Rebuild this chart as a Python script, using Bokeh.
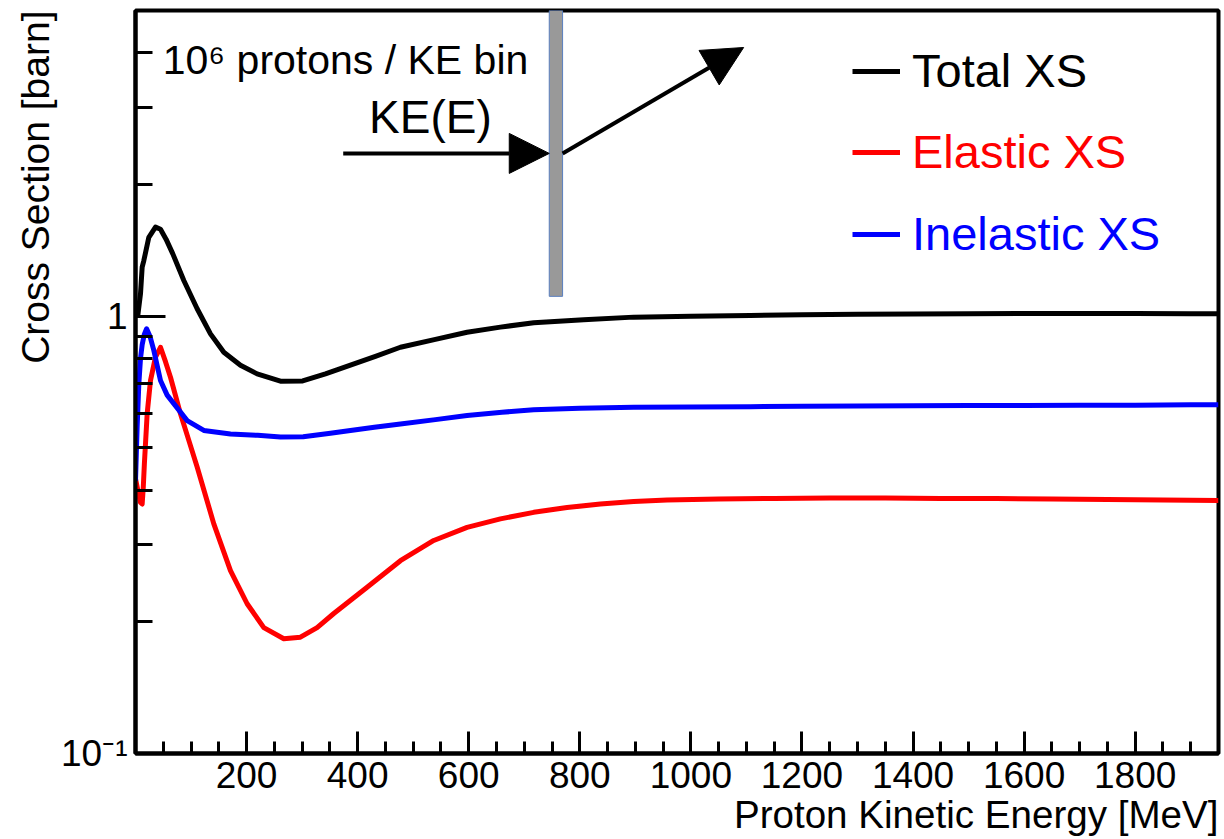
from bokeh.plotting import figure
from bokeh.models import (Range1d, FixedTicker, Legend, LegendItem, Arrow,
                          NormalHead, Label, Title)
from bokeh.embed import file_html
from bokeh.resources import INLINE

FONT = "Liberation Sans"

# ---------------- data ----------------
total_ke = [4, 9, 12, 15, 24, 36, 45, 55, 67, 87, 111, 135, 159, 189, 219, 261,
            301, 342, 387, 432, 477, 540, 597, 657, 717, 807, 897, 1000, 1107,
            1200, 1300, 1400, 1500, 1600, 1700, 1800, 1900, 1950]
total_xs = [1.00, 1.125, 1.295, 1.34, 1.515, 1.598, 1.58, 1.50, 1.39, 1.207,
            1.04, 0.911, 0.827, 0.772, 0.738, 0.710, 0.711, 0.738, 0.773, 0.809,
            0.849, 0.885, 0.919, 0.944, 0.966, 0.981, 0.995, 1.000, 1.004,
            1.007, 1.010, 1.012, 1.013, 1.014, 1.014, 1.014, 1.013, 1.013]

inelastic_ke = [0, 3, 6, 9, 12, 16, 20, 26, 33, 45, 57, 69, 93, 123, 171, 220,
                261, 302, 351, 387, 430, 477, 540, 597, 660, 717, 800, 897,
                1000, 1107, 1200, 1300, 1400, 1500, 1600, 1700, 1800, 1900, 1950]
inelastic_xs = [0.42, 0.56, 0.70, 0.80, 0.86, 0.91, 0.936, 0.90, 0.835, 0.713,
                0.66, 0.631, 0.577, 0.548, 0.538, 0.534, 0.529, 0.530, 0.540,
                0.548, 0.557, 0.567, 0.580, 0.593, 0.603, 0.611, 0.616, 0.619,
                0.620, 0.621, 0.622, 0.623, 0.624, 0.625, 0.625, 0.626, 0.626,
                0.627, 0.627]

elastic_ke = [0, 5, 9, 12, 14, 16, 21, 27, 36, 45, 54, 63, 81, 96, 111, 141, 171,
              201, 231, 267, 297, 327, 357, 417, 477, 537, 597, 657, 717, 777,
              837, 897, 957, 1050, 1150, 1250, 1350, 1450, 1550, 1650, 1750,
              1850, 1950]
elastic_xs = [0.425, 0.395, 0.375, 0.372, 0.406, 0.46, 0.598, 0.713, 0.806,
              0.849, 0.787, 0.725, 0.598, 0.520, 0.452, 0.335, 0.262, 0.220,
              0.194, 0.183, 0.1845, 0.194, 0.209, 0.240, 0.276, 0.307, 0.329,
              0.344, 0.356, 0.365, 0.372, 0.377, 0.380, 0.382, 0.383, 0.384,
              0.384, 0.383, 0.383, 0.382, 0.381, 0.380, 0.379]

x_major_ticks = [200, 400, 600, 800, 1000, 1200, 1400, 1600, 1800]
x_minor_ticks = list(range(50, 1951, 50))
y_major_ticks = [0.1, 1]
y_minor_ticks = [0.2, 0.3, 0.4, 0.5, 0.6, 0.7, 0.8, 0.9, 2, 3, 4]
y_tick_labels = {0.1: "10\u207b\u00b9", 1: "1"}

series_names = ["Total XS", "Elastic XS", "Inelastic XS"]
series_colors = ["black", "#ff0000", "#0000ff"]

# annotation: one KE bin and the beam arrows (data coordinates)
bin_lo, bin_hi, bin_bottom, bin_top = 745, 769, 1.11, 5.0
arrow_in = (374, 2.356, 745, 2.356)
arrow_out = (769, 2.356, 1095, 4.115)

# ---------------- figure ----------------
p = figure(width=1224, height=839, title=None,
           x_range=Range1d(0, 1950), y_range=Range1d(0.1, 5),
           y_axis_type="log", output_backend="svg", toolbar_location=None,
           min_border_left=135, min_border_right=6, min_border_top=10,
           min_border_bottom=86)
p.background_fill_color = "white"
p.border_fill_color = "white"
p.outline_line_color = "black"
p.outline_line_width = 4
p.xgrid.visible = False
p.ygrid.visible = False

xa = p.xaxis[0]
ya = p.yaxis[0]
xa.ticker = FixedTicker(ticks=x_major_ticks, minor_ticks=x_minor_ticks)
ya.ticker = FixedTicker(ticks=y_major_ticks, minor_ticks=y_minor_ticks)
ya.major_label_overrides = y_tick_labels
for ax in (xa, ya):
    ax.axis_line_width = 4
    ax.axis_line_color = "black"
    ax.major_tick_line_width = 3
    ax.minor_tick_line_width = 3
    ax.major_tick_out = 0
    ax.minor_tick_out = 0
    ax.major_label_text_font = FONT
    ax.major_label_text_font_size = "37px"
    ax.major_label_text_color = "black"
xa.major_tick_in = 22
xa.minor_tick_in = 12
xa.major_label_standoff = 8
ya.major_tick_in = 30
ya.minor_tick_in = 17
ya.major_label_standoff = 8

p.add_layout(Title(text="Proton Kinetic Energy [MeV]", align="right",
                   text_font=FONT, text_font_size="38.6px",
                   text_font_style="normal", text_color="black",
                   standoff=0), "below")
p.add_layout(Title(text="Cross Section [barn]", align="right",
                   text_font=FONT, text_font_size="39px",
                   text_font_style="normal", text_color="black",
                   standoff=4), "left")

# KE bin bar
p.quad(left=[bin_lo], right=[bin_hi], bottom=[bin_bottom], top=[bin_top],
       fill_color="#999999", line_color="#5a7fbf", line_width=1)

# curves
r_total = p.line(total_ke, total_xs, line_color=series_colors[0], line_width=5,
                 line_join="round")
r_el = p.line(elastic_ke, elastic_xs, line_color=series_colors[1], line_width=5,
              line_join="round")
r_inel = p.line(inelastic_ke, inelastic_xs, line_color=series_colors[2],
                line_width=5, line_join="round")

# arrows
for (x0, y0, x1, y1) in (arrow_in, arrow_out):
    p.add_layout(Arrow(end=NormalHead(size=40, fill_color="black",
                                      line_color="black", line_width=1),
                       x_start=x0, y_start=y0, x_end=x1, y_end=y1,
                       line_color="black", line_width=4))

p.add_layout(Label(x=49, y=3.86, text="10\u2076 protons / KE bin",
                   text_font=FONT, text_font_size="41px",
                   text_baseline="alphabetic", text_color="black"))
p.add_layout(Label(x=531, y=2.86, text="KE(E)", text_align="center",
                   text_font=FONT, text_font_size="46px",
                   text_baseline="alphabetic", text_color="black"))

# legend: one per entry so each text takes its line colour
leg_y = [655, 574, 492]
for name, col, r, ly in zip(series_names, series_colors,
                            [r_total, r_el, r_inel], leg_y):
    leg = Legend(items=[LegendItem(label=name, renderers=[r])],
                 location=(717, ly), padding=0, margin=0, spacing=0,
                 glyph_width=48, glyph_height=20, label_standoff=12,
                 label_text_font=FONT, label_text_font_size="47px",
                 label_text_color=col, border_line_alpha=0,
                 background_fill_alpha=0)
    p.add_layout(leg)

open("out.html", "w").write(file_html(p, INLINE))
